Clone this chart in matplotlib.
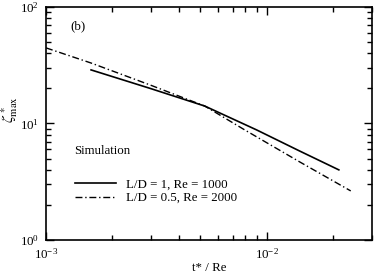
import matplotlib
matplotlib.use("Agg")
import matplotlib.pyplot as plt
from matplotlib.ticker import LogLocator, NullFormatter

plt.rcParams['font.family'] = ['Liberation Serif', 'DejaVu Serif']
plt.rcParams['mathtext.fontset'] = 'stix'
plt.rcParams['font.size'] = 9.3

# L/D = 1, Re = 1000 (solid)
t_ld1 = [1.60e-3, 2.96e-3, 5.24e-3, 9.0e-3, 1.41e-2, 2.12e-2]
zeta_ld1 = [28.8, 20.0, 14.1, 8.8, 5.8, 4.0]

# L/D = 0.5, Re = 2000 (dash-dot)
t_ld05 = [1.0e-3, 1.60e-3, 2.96e-3, 5.24e-3, 7.95e-3, 1.41e-2, 2.40e-2]
zeta_ld05 = [44.5, 33.0, 21.4, 14.1, 8.8, 4.68, 2.64]

labels = ['L/D = 1, Re = 1000', 'L/D = 0.5, Re = 2000']

fig = plt.figure(figsize=(3.74, 2.75), dpi=100)
ax = fig.add_axes([0.123, 0.127, 0.872, 0.848])

ax.plot(t_ld1, zeta_ld1, color='black', lw=1.2, linestyle='-', label=labels[0])
ax.plot(t_ld05, zeta_ld05, color='black', lw=1.0, dashes=[5, 2, 1, 2], label=labels[1])

ax.set_xscale('log')
ax.set_yscale('log')
ax.set_xlim(1e-3, 3e-2)
ax.set_ylim(1, 100)

ax.xaxis.set_minor_locator(LogLocator(base=10, subs=range(2, 10)))
ax.yaxis.set_minor_locator(LogLocator(base=10, subs=range(2, 10)))
ax.xaxis.set_minor_formatter(NullFormatter())
ax.yaxis.set_minor_formatter(NullFormatter())
ax.tick_params(which='both', direction='in', top=True, right=True, width=1.0)
ax.tick_params(which='major', length=6, pad=5)
ax.tick_params(which='minor', length=3.5)
for s in ax.spines.values():
    s.set_linewidth(1.2)

ax.set_xlabel('t* / Re', labelpad=0)
ax.set_ylabel(r'$\zeta^*_{\rm max}$', fontsize=11)
ax.yaxis.set_label_coords(-0.08, 0.56)

ax.text(0.074, 0.918, '(b)', transform=ax.transAxes, va='center')
ax.text(0.085, 0.37, 'Simulation', transform=ax.transAxes)

ax.legend(loc='lower left', bbox_to_anchor=(0.06, 0.115), frameon=False,
          handlelength=3.2, handletextpad=0.8, labelspacing=0.1, borderpad=0.2)

fig.savefig('out.png', dpi=100)
